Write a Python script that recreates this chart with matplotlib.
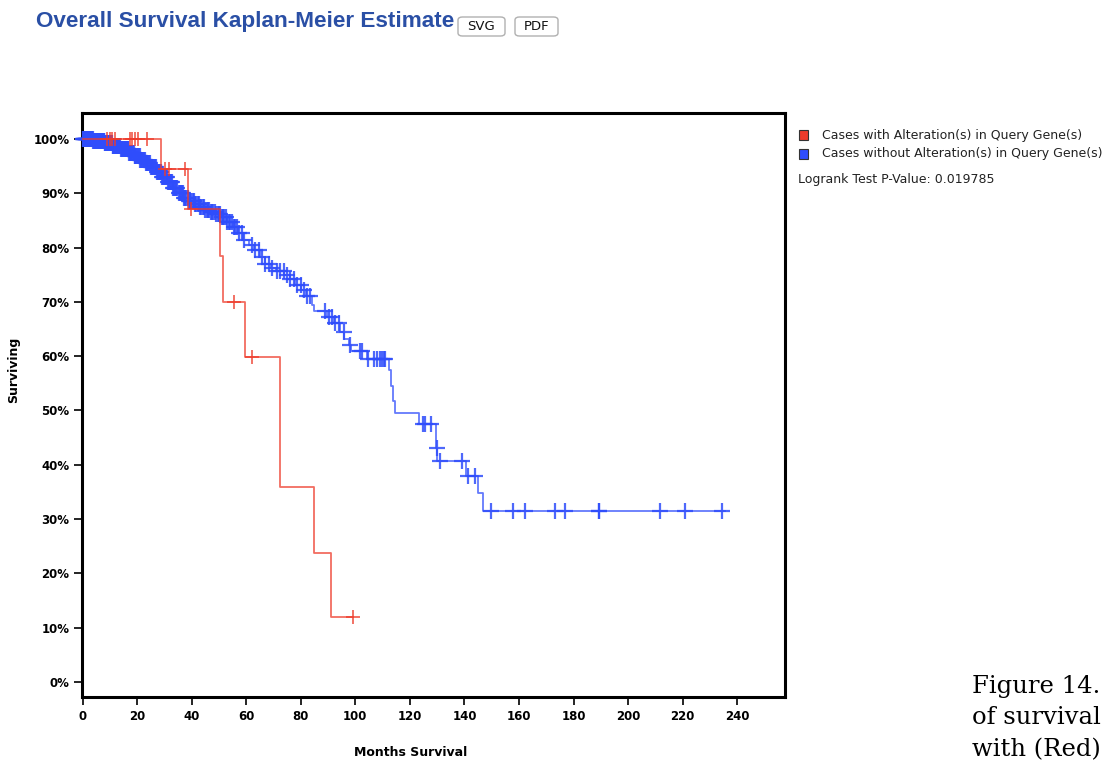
import numpy as np
import matplotlib
matplotlib.use("Agg")
import matplotlib.pyplot as plt
from matplotlib.patches import FancyBboxPatch, Rectangle

# ---------------- data ----------------
title = "Overall Survival Kaplan-Meier Estimate"
legend_labels = ["Cases with Alteration(s) in Query Gene(s)",
                 "Cases without Alteration(s) in Query Gene(s)"]
pvalue_text = "Logrank Test P-Value: 0.019785"
x_label = "Months Survival"
y_label = "Surviving"
x_ticks = [0, 20, 40, 60, 80, 100, 120, 140, 160, 180, 200, 220, 240]
y_ticks = [0, 10, 20, 30, 40, 50, 60, 70, 80, 90, 100]

# altered (red): event times and survival (%) after each event
red_times = [0, 28.6, 38.8, 50.5, 51.5, 59.4, 72.2, 84.7, 90.9]
red_surv = [100, 94.4, 87.1, 78.5, 69.9, 59.9, 35.8, 23.8, 12.0]
red_end = 99.3
red_censor = [8.9, 9.9, 10.7, 12.0, 17.5, 18.0, 19.3, 20.3, 23.6,
              30.4, 31.6, 37.7, 39.8, 55.4, 62.0, 99.3]

# unaltered (blue)
blue_times = [0, 4, 8, 11, 14, 17, 19, 21, 23, 25, 27, 29, 31, 33, 35, 37, 39,
              41, 43, 45, 47, 49, 51, 53, 55, 57, 59, 61, 63, 65, 67, 69, 71,
              74, 76, 78, 80, 82, 84, 85, 89.7, 92, 94.5, 96, 97.5, 98.5,
              104.3, 112.5, 113.2, 113.8, 114.5, 123.3, 129.6, 130.0, 140.5,
              144.9, 146.8]
blue_surv = [100, 99.6, 99.2, 98.8, 98.2, 97.4, 96.8, 96.1, 95.5, 94.8, 93.9,
             93.0, 92.0, 91.0, 90.0, 89.2, 88.6, 88.0, 87.4, 87.0, 86.5, 86.1,
             85.6, 84.8, 83.8, 82.6, 81.4, 80.5, 79.5, 78.2, 77.0, 76.2, 75.7,
             75.0, 74.2, 73.2, 72.2, 71.0, 69.5, 68.4, 67.3, 66.1, 64.5, 63.2,
             62.0, 61.0, 59.5, 57.5, 54.5, 51.8, 49.6, 47.5, 43.0, 40.7, 37.9,
             34.7, 31.5]
blue_end = 235.5
blue_censor = [0.1, 0.3, 0.5, 0.6, 0.8, 0.9, 1.1, 1.2, 1.4, 1.6, 1.8, 2.0,
               2.1, 2.3, 2.5, 2.7, 2.9, 3.1, 3.3, 3.5, 3.6, 3.8, 4.0, 4.2,
               4.4, 4.6, 4.8, 5.0, 5.2, 5.4, 5.6, 5.8, 6.0, 6.2, 6.4, 6.6,
               6.8, 7.0, 7.2, 7.4, 7.7, 7.9, 8.1, 8.3, 8.6, 8.8, 9.0, 9.2,
               9.5, 9.7, 9.9, 10.1, 10.4, 10.6, 10.8, 11.0, 11.3, 11.5, 11.8,
               12.0, 12.3, 12.5, 12.8, 13.0, 13.3, 13.5, 13.8, 14.0, 14.3,
               14.6, 14.9, 15.1, 15.4, 15.7, 16.0, 16.2, 16.5, 16.8, 17.1,
               17.3, 17.6, 17.9, 18.2, 18.5, 18.8, 19.1, 19.4, 19.7, 20.0,
               20.3, 20.6, 20.9, 21.2, 21.5, 21.8, 22.2, 22.5, 22.8, 23.1,
               23.5, 23.8, 24.1, 24.5, 24.8, 25.1, 25.5, 25.8, 26.2, 26.5,
               26.9, 27.2, 27.6, 27.9, 28.3, 28.6, 29.0, 29.4, 29.8, 30.1,
               30.5, 30.9, 31.3, 31.6, 32.0, 32.4, 32.8, 33.2, 33.6, 34.0,
               34.4, 34.8, 35.2, 35.6, 36.0, 36.4, 36.9, 37.3, 37.7, 38.1,
               38.6, 39.0, 39.5, 39.9, 40.4, 40.8, 41.3, 41.7, 42.2, 42.6,
               43.1, 43.5, 44.0, 44.5, 45.0, 45.5, 46.0, 46.5, 47.0, 47.5,
               48.0, 48.5, 49.0, 49.5, 50.0, 50.5, 51.0, 51.5, 52.0, 52.5,
               53.0, 53.6, 54.2, 54.8, 55.4, 56.0, 56.7, 57.3, 58.5, 59.2,
               62.2, 63.4, 64.6, 65.8, 67.0, 68.2, 69.5, 71.3, 72.5, 73.7,
               75.0, 76.2, 77.4, 78.7, 79.9, 81.1, 82.3, 83.5, 89.0, 90.2,
               91.5, 92.7, 93.9, 95.7, 98.2, 101.8, 102.5, 104.8, 107.0,
               107.8, 109.2, 109.8, 110.4, 111.0, 124.9, 125.7, 127.9, 129.8,
               131.2, 139.1, 141.2, 143.8, 149.8, 157.7, 162.1, 173.1, 177.0,
               189.2, 189.5, 211.8, 221.0, 234.4]

red_color = "#ee3b2b"
blue_color = "#2f4dfb"

# ---------------- figure ----------------
fig = plt.figure(figsize=(11.12, 7.61), dpi=100)
ax = fig.add_axes([82 / 1112, 1 - 697 / 761, (785 - 82) / 1112, (697 - 113) / 761])

tick_font = dict(family="Liberation Sans Narrow", weight="bold", size=8.5)


def surv_at(times, surv, t):
    idx = np.searchsorted(np.asarray(times), t, side="right") - 1
    return np.asarray(surv)[idx]


def draw_curve(times, surv, end, censor, color, z, ms, mew):
    xs = list(times) + [end]
    ys = list(surv) + [surv[-1]]
    ax.step(xs, ys, where="post", color=color, lw=1.3, alpha=0.75,
            zorder=z, clip_on=False)
    cy = [surv_at(times, surv, t) for t in censor]
    ax.plot(censor, cy, linestyle="none", marker="+", markersize=ms,
            markeredgewidth=mew, color=color, alpha=0.85, zorder=z + 0.5,
            clip_on=False)


draw_curve(blue_times, blue_surv, blue_end, blue_censor, blue_color, 3, 11, 1.6)
draw_curve(red_times, red_surv, red_end, red_censor, red_color, 4, 10, 1.2)

ax.set_xlim(-0.2, 257.5)
ax.set_ylim(-2.8, 104.8)
ax.set_xticks(x_ticks)
ax.set_xticklabels([str(v) for v in x_ticks], fontdict=tick_font)
ax.set_yticks(y_ticks)
ax.set_yticklabels([f"{v}%" for v in y_ticks], fontdict=tick_font)
ax.tick_params(axis="both", direction="out", length=6, width=1.2, color="black",
               pad=3)
for s in ax.spines.values():
    s.set_linewidth(2.2)
    s.set_color("black")

fig.text(411 / 1112, 1 - 752 / 761, x_label, ha="center", va="center",
         family="Liberation Sans Narrow", weight="bold", size=9)
fig.text(14 / 1112, 1 - 370 / 761, y_label, ha="center", va="center",
         rotation=90, family="Liberation Sans Narrow", weight="bold", size=9)

# title and buttons
fig.text(36 / 1112, 1 - 21 / 761, title, ha="left", va="center",
         family="Liberation Sans", weight="bold", size=16.2, color="#2a4fa5")
for x0, x1, lab in [(458, 505, "SVG"), (515, 558, "PDF")]:
    box = FancyBboxPatch((x0 / 1112, 1 - 36 / 761), (x1 - x0) / 1112, 19 / 761,
                         boxstyle="round,pad=0,rounding_size=0.004",
                         transform=fig.transFigure, facecolor="white",
                         edgecolor="#b0b0b0", lw=1)
    fig.patches.append(box)
    fig.text((x0 + x1) / 2 / 1112, 1 - 26.5 / 761, lab, ha="center",
             va="center", family="Liberation Sans Narrow", size=9.5,
             color="#111111")

# legend
for i, (lab, col) in enumerate(zip(legend_labels, [red_color, blue_color])):
    y = 1 - (135 + i * 19) / 761
    sq = Rectangle((798.5 / 1112, y - 4.5 / 761), 9 / 1112, 9 / 761,
                   transform=fig.transFigure, facecolor=col,
                   edgecolor="#333333", lw=0.8)
    fig.patches.append(sq)
    fig.text(822 / 1112, y, lab, ha="left", va="center",
             family="DejaVu Sans", size=9, color="#222222")
fig.text(798 / 1112, 1 - 179 / 761, pvalue_text, ha="left", va="center",
         family="DejaVu Sans", size=9, color="#222222")

# caption fragment at bottom right
for i, line in enumerate(["Figure 14.", "of survival", "with (Red)"]):
    fig.text(972 / 1112, 1 - (686 + 32 * i) / 761, line, ha="left",
             va="center", family="DejaVu Serif", size=17.5, color="black")

fig.savefig("out.png", dpi=100)
